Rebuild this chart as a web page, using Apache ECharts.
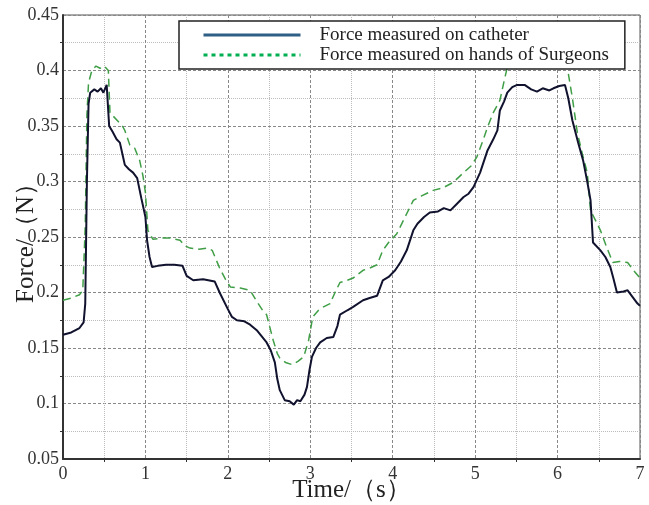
<!DOCTYPE html>
<html>
<head>
<meta charset="utf-8">
<script src="https://cdn.jsdelivr.net/npm/echarts@6/dist/echarts.min.js"></script>
<style>
  html, body { margin: 0; padding: 0; background: #fff; }
  #chart { width: 649px; height: 505px; }
</style>
</head>
<body>
<div id="chart"></div>
<script>
// 导管上测得的力 (time in s, force in N)
const catheterTime = [0, 0.1, 0.2, 0.25, 0.27, 0.29, 0.31, 0.33, 0.38, 0.42, 0.46, 0.49, 0.53, 0.56, 0.6, 0.65, 0.69, 0.72, 0.75, 0.8, 0.85, 0.9, 0.95, 1.0, 1.02, 1.05, 1.08, 1.15, 1.25, 1.35, 1.45, 1.5, 1.58, 1.7, 1.84, 1.9, 2.0, 2.05, 2.11, 2.2, 2.27, 2.35, 2.47, 2.52, 2.57, 2.6, 2.63, 2.69, 2.75, 2.8, 2.84, 2.88, 2.93, 2.96, 2.99, 3.02, 3.07, 3.12, 3.2, 3.28, 3.33, 3.36, 3.45, 3.52, 3.64, 3.72, 3.81, 3.88, 3.95, 4.03, 4.1, 4.17, 4.25, 4.3, 4.38, 4.45, 4.55, 4.62, 4.7, 4.78, 4.86, 4.92, 4.98, 5.06, 5.15, 5.22, 5.27, 5.3, 5.35, 5.39, 5.45, 5.51, 5.6, 5.68, 5.75, 5.82, 5.9, 5.95, 6.02, 6.09, 6.13, 6.18, 6.25, 6.31, 6.36, 6.4, 6.43, 6.52, 6.58, 6.64, 6.68, 6.72, 6.8, 6.85, 6.92, 6.97, 7.0]
const catheterForce = [0.162, 0.164, 0.168, 0.173, 0.19, 0.30, 0.37, 0.380, 0.383, 0.381, 0.384, 0.380, 0.387, 0.35, 0.345, 0.338, 0.335, 0.325, 0.315, 0.311, 0.308, 0.303, 0.285, 0.268, 0.247, 0.232, 0.223, 0.224, 0.225, 0.225, 0.224, 0.215, 0.211, 0.212, 0.210, 0.200, 0.185, 0.178, 0.175, 0.174, 0.171, 0.166, 0.155, 0.148, 0.137, 0.122, 0.112, 0.103, 0.102, 0.099, 0.103, 0.102, 0.108, 0.115, 0.130, 0.142, 0.150, 0.155, 0.159, 0.160, 0.170, 0.180, 0.184, 0.187, 0.193, 0.195, 0.197, 0.211, 0.214, 0.220, 0.228, 0.238, 0.256, 0.262, 0.268, 0.272, 0.273, 0.276, 0.274, 0.280, 0.286, 0.289, 0.295, 0.308, 0.328, 0.338, 0.346, 0.364, 0.372, 0.380, 0.385, 0.387, 0.387, 0.383, 0.381, 0.384, 0.382, 0.384, 0.386, 0.387, 0.375, 0.355, 0.335, 0.319, 0.300, 0.283, 0.245, 0.238, 0.232, 0.223, 0.212, 0.200, 0.201, 0.202, 0.195, 0.190, 0.188]

// 医生手上测得的力
const surgeonTime = [0, 0.1, 0.2, 0.24, 0.27, 0.29, 0.31, 0.35, 0.4, 0.45, 0.5, 0.55, 0.57, 0.62, 0.67, 0.72, 0.75, 0.81, 0.87, 0.93, 0.97, 1.0, 1.03, 1.09, 1.2, 1.3, 1.42, 1.48, 1.54, 1.65, 1.75, 1.81, 1.9, 1.97, 2.03, 2.15, 2.27, 2.35, 2.43, 2.47, 2.55, 2.6, 2.63, 2.7, 2.78, 2.85, 2.92, 2.98, 3.03, 3.1, 3.16, 3.24, 3.3, 3.36, 3.45, 3.52, 3.64, 3.72, 3.81, 3.88, 3.95, 4.05, 4.15, 4.25, 4.35, 4.49, 4.6, 4.73, 4.86, 4.95, 5.02, 5.1, 5.15, 5.22, 5.3, 5.35, 5.39, 5.5, 5.6, 5.7, 5.8, 5.9, 6.0, 6.12, 6.18, 6.24, 6.3, 6.36, 6.4, 6.46, 6.52, 6.6, 6.67, 6.75, 6.85, 6.92, 7.0]
const surgeonForce = [0.193, 0.195, 0.198, 0.202, 0.26, 0.36, 0.389, 0.400, 0.404, 0.402, 0.404, 0.400, 0.362, 0.358, 0.354, 0.350, 0.346, 0.333, 0.330, 0.319, 0.305, 0.290, 0.256, 0.248, 0.249, 0.249, 0.247, 0.242, 0.240, 0.239, 0.240, 0.238, 0.222, 0.212, 0.205, 0.204, 0.202, 0.192, 0.183, 0.180, 0.157, 0.145, 0.141, 0.137, 0.135, 0.138, 0.142, 0.157, 0.178, 0.184, 0.187, 0.190, 0.200, 0.209, 0.211, 0.213, 0.220, 0.222, 0.225, 0.238, 0.245, 0.253, 0.268, 0.283, 0.287, 0.292, 0.294, 0.299, 0.308, 0.314, 0.322, 0.338, 0.349, 0.362, 0.373, 0.390, 0.403, 0.405, 0.404, 0.406, 0.402, 0.405, 0.403, 0.402, 0.375, 0.344, 0.325, 0.308, 0.274, 0.265, 0.256, 0.240, 0.227, 0.228, 0.227, 0.220, 0.213]

const seriesNames = ['Force measured on catheter', 'Force measured on hands of Surgeons']

const serif = '"Liberation Serif", "Times New Roman", serif'

const toPairs = (ts, vs) => ts.map((t, i) => [t, vs[i]])

const chart = echarts.init(document.getElementById('chart'))

const option = {
    animation: false,
    backgroundColor: '#fff',
    grid: {
        left: 63,
        right: 9,
        top: 15,
        bottom: 46,
        outerBoundsMode: 'none',
        containLabel: false,
        show: true,
        borderColor: '#555',
        borderWidth: 1
    },
    legend: {
        orient: 'vertical',
        left: 179,
        top: 21,
        padding: [4, 16, 4, 23],
        itemGap: 0,
        itemWidth: 97,
        itemHeight: 14,
        borderColor: '#222',
        borderWidth: 1.5,
        backgroundColor: '#fff',
        itemStyle: { opacity: 0 },
        textStyle: {
            fontFamily: serif,
            fontSize: 19,
            color: '#222',
            lineHeight: 20,
            padding: [0, 0, 0, 14]
        },
        data: [
            { name: seriesNames[0], lineStyle: { color: '#2f5f85', width: 3, type: 'solid' } },
            { name: seriesNames[1], lineStyle: { color: '#00b050', width: 3, type: [4, 4] } }
        ]
    },
    xAxis: {
        type: 'value',
        min: 0,
        max: 7,
        interval: 1,
        name: 'Time/（s）',
        nameLocation: 'middle',
        nameGap: 19,
        nameMoveOverlap: false,
        nameTextStyle: { fontFamily: serif, fontSize: 25, color: '#222' },
        axisLine: { onZero: false, lineStyle: { color: '#333', width: 2 } },
        axisTick: { show: false },
        axisLabel: { fontFamily: serif, fontSize: 18, color: '#333', margin: 6 },
        splitLine: { show: true, lineStyle: { color: '#888', type: [3, 2], width: 1 } },
        minorTick: { show: true, splitNumber: 2 },
        minorSplitLine: { show: true, lineStyle: { color: '#bbb', type: [1, 1], width: 1 } }
    },
    yAxis: {
        type: 'value',
        min: 0.05,
        max: 0.45,
        interval: 0.05,
        name: 'Force/（N）',
        nameLocation: 'middle',
        nameGap: 24,
        nameMoveOverlap: false,
        nameTextStyle: { fontFamily: serif, fontSize: 25, color: '#222' },
        axisLine: { show: true, onZero: false, lineStyle: { color: '#333', width: 2 } },
        axisTick: { show: false },
        axisLabel: {
            fontFamily: serif, fontSize: 18, color: '#333', margin: 4,
            formatter: v => String(+v.toFixed(2))
        },
        splitLine: { show: true, lineStyle: { color: '#888', type: [3, 2], width: 1 } },
        minorTick: { show: true, splitNumber: 2 },
        minorSplitLine: { show: true, lineStyle: { color: '#bbb', type: [1, 1], width: 1 } }
    },
    series: [
        {
            name: seriesNames[0],
            type: 'line',
            symbol: 'none',
            z: 3,
            lineStyle: { color: '#10122e', width: 2 },
            itemStyle: { color: '#10122e' },
            data: toPairs(catheterTime, catheterForce)
        },
        {
            name: seriesNames[1],
            type: 'line',
            symbol: 'none',
            z: 2,
            lineStyle: { color: '#3f9e46', width: 1.5, type: [8, 5] },
            itemStyle: { color: '#3f9e46' },
            data: toPairs(surgeonTime, surgeonForce)
        }
    ]
}

chart.setOption(option)
</script>
</body>
</html>
